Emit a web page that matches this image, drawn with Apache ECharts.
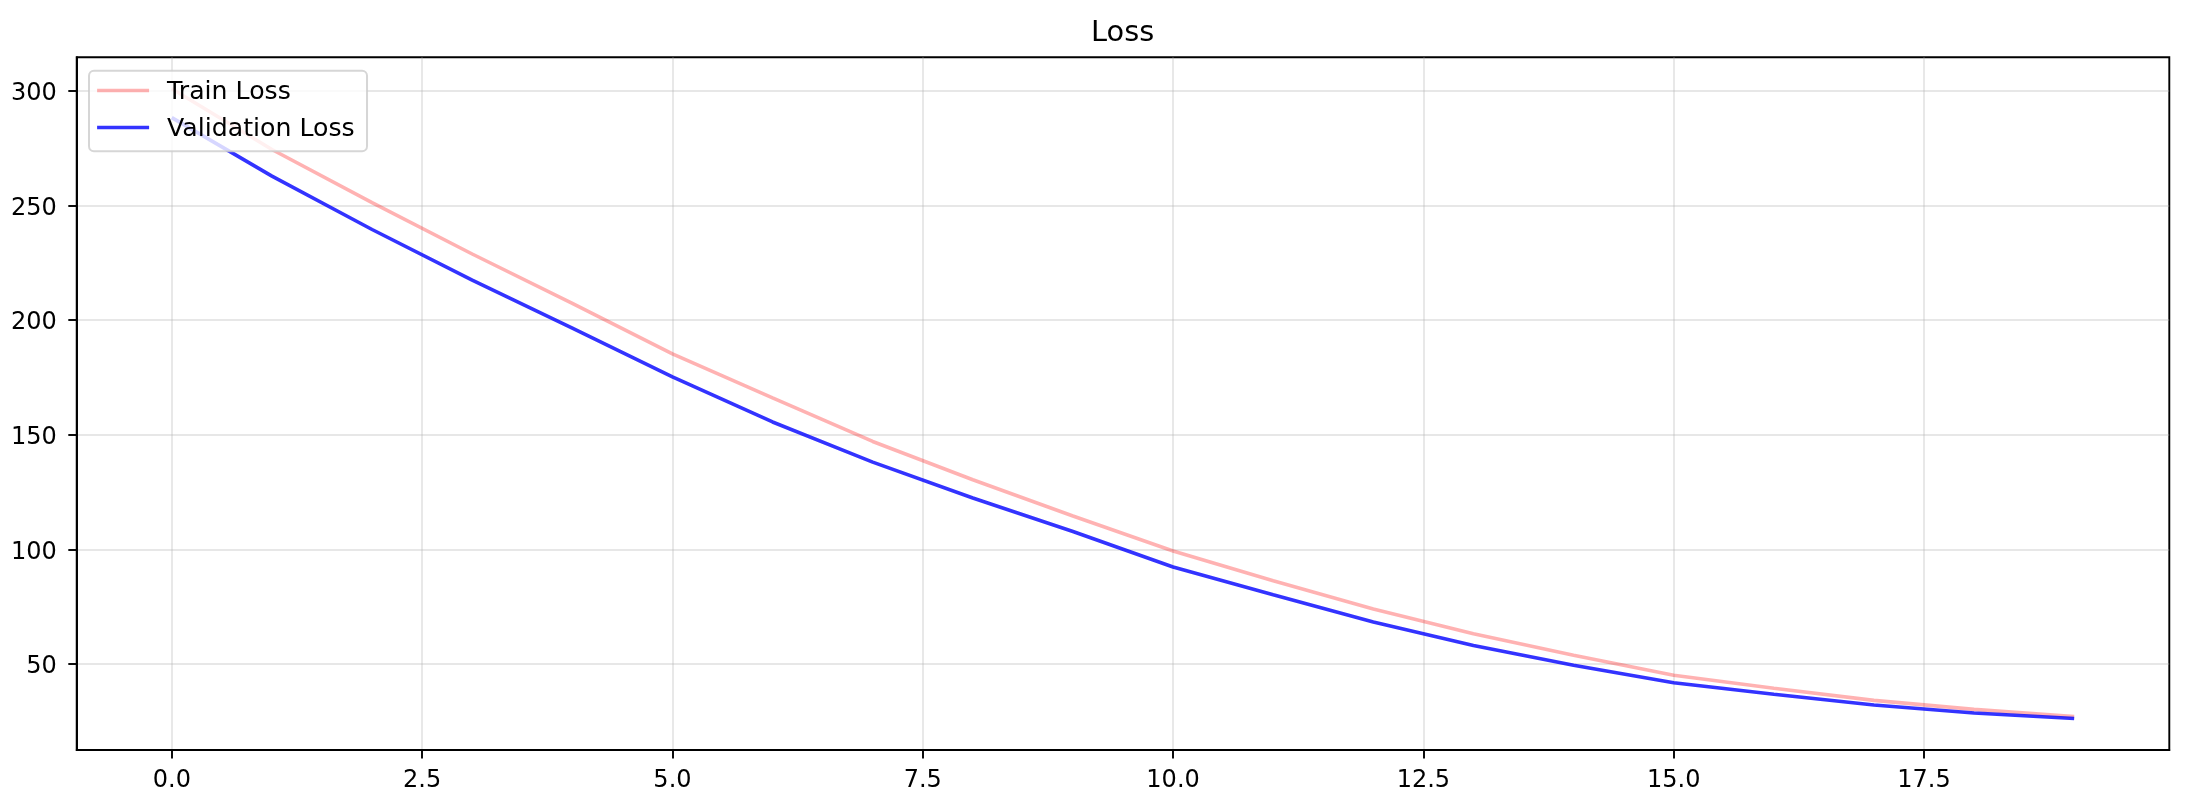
<!DOCTYPE html>
<html>
<head>
<meta charset="utf-8">
<script src="https://cdn.jsdelivr.net/npm/echarts@6/dist/echarts.min.js"></script>
<style>
html,body{margin:0;padding:0;background:#fff;overflow:hidden;}
#chart{width:2202px;height:806px;}
</style>
</head>
<body>
<div id="chart"></div>
<script>
const epochs = [0,1,2,3,4,5,6,7,8,9,10,11,12,13,14,15,16,17,18,19];
const trainLoss = [301.0, 274.5, 251.3, 228.9, 207.4, 185.3, 166.1, 147.1, 130.4, 114.6, 99.3, 86.3, 74.0, 63.2, 53.8, 45.1, 39.4, 34.1, 30.2, 27.1];
const valLoss = [288.4, 262.9, 239.6, 217.5, 196.6, 175.3, 155.6, 138.1, 122.4, 107.8, 92.3, 80.2, 68.3, 58.1, 49.4, 41.8, 36.8, 32.1, 28.6, 26.2];
const xTicks = [0, 2.5, 5, 7.5, 10, 12.5, 15, 17.5];
const yTicks = [50, 100, 150, 200, 250, 300];
const seriesNames = ['Train Loss', 'Validation Loss'];
const titleText = 'Loss';

const xMinD = Math.min(...epochs), xMaxD = Math.max(...epochs);
const xPad = (xMaxD - xMinD) * 0.05;
const allY = trainLoss.concat(valLoss);
const yMinD = Math.min(...allY), yMaxD = Math.max(...allY);
const yPad = (yMaxD - yMinD) * 0.05;

const FONT = 'DejaVu Sans';
const chart = echarts.init(document.getElementById('chart'), null, {renderer: 'canvas'});
const gridLine = {show: true, lineStyle: {color: 'rgba(176,176,176,0.3)', width: 1.9}};
const axisLineStyle = {show: true, onZero: false, lineStyle: {color: '#000', width: 1.9}};
chart.setOption({
  animation: false,
  backgroundColor: '#ffffff',
  title: {
    text: titleText, left: 1091, top: 19.5, padding: 0,
    textStyle: {fontFamily: FONT, fontSize: 28.8, fontWeight: 'normal', color: '#000'}
  },
  grid: {
    left: 76.7, right: 32.7, top: 57.3, bottom: 56,
    show: true, borderColor: '#000', borderWidth: 1.9, backgroundColor: 'transparent',
    containLabel: false, outerBoundsMode: 'none'
  },
  legend: {
    data: seriesNames, orient: 'vertical', left: 89, top: 70.7,
    itemWidth: 52, itemHeight: 24, itemGap: 8.6,
    padding: [5.5, 12.3, 9.5, 6.3],
    backgroundColor: 'rgba(255,255,255,0.8)',
    borderColor: 'rgba(204,204,204,0.8)', borderWidth: 2, borderRadius: 5,
    itemStyle: {opacity: 0, borderWidth: 0},
    lineStyle: {width: 3.6},
    formatter: name => '\n' + name,
    textStyle: {fontFamily: FONT, fontSize: 25.2, lineHeight: 3.5, color: '#000', padding: [0, 0, 0, 13]}
  },
  xAxis: {
    type: 'value', min: xMinD - xPad, max: xMaxD + xPad,
    axisLine: axisLineStyle,
    axisTick: {show: true, inside: false, length: 8.4, lineStyle: {color: '#000', width: 1.9}, customValues: xTicks},
    axisLabel: {customValues: xTicks, margin: 18.4, fontFamily: FONT, fontSize: 24, color: '#000',
      formatter: v => v.toFixed(1)},
    splitLine: gridLine
  },
  yAxis: {
    type: 'value', min: yMinD - yPad, max: yMaxD + yPad,
    axisLine: axisLineStyle,
    axisTick: {show: true, inside: false, length: 8.4, lineStyle: {color: '#000', width: 1.9}, customValues: yTicks},
    axisLabel: {customValues: yTicks, margin: 20, fontFamily: FONT, fontSize: 24, lineHeight: 6, color: '#000',
      formatter: v => '\n' + String(Math.round(v))},
    splitLine: gridLine
  },
  series: [
    {
      name: seriesNames[0], type: 'line', symbol: 'none', smooth: false,
      data: epochs.map((e, i) => [e, trainLoss[i]]),
      lineStyle: {color: 'rgba(255,0,0,0.3)', width: 3.6},
      itemStyle: {color: 'rgba(255,0,0,0.3)'}
    },
    {
      name: seriesNames[1], type: 'line', symbol: 'none', smooth: false,
      data: epochs.map((e, i) => [e, valLoss[i]]),
      lineStyle: {color: 'rgba(0,0,255,0.8)', width: 3.6},
      itemStyle: {color: 'rgba(0,0,255,0.8)'}
    }
  ]
});
</script>
</body>
</html>
